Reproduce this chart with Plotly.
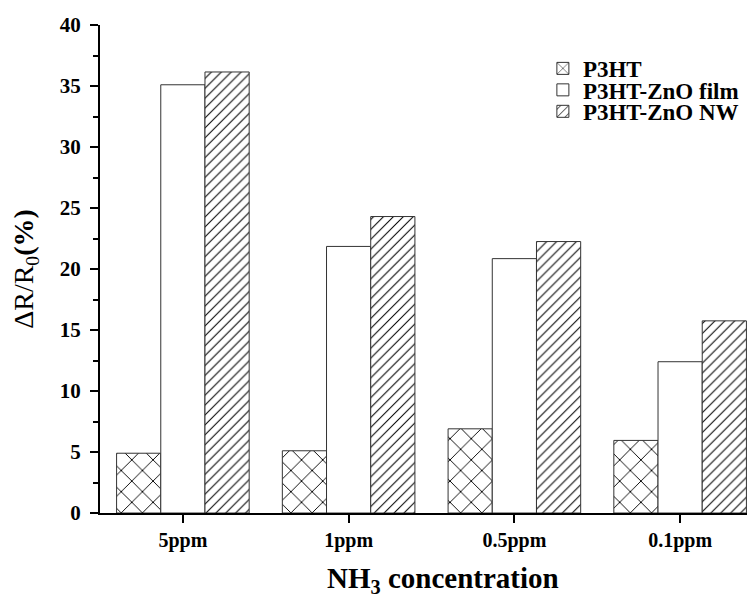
import plotly.graph_objects as go

categories = ["5ppm", "1ppm", "0.5ppm", "0.1ppm"]
p3ht = [4.9, 5.1, 6.9, 5.95]
p3ht_zno_film = [35.1, 21.85, 20.85, 12.4]
p3ht_zno_nw = [36.15, 24.3, 22.25, 15.75]
y_ticks = [0, 5, 10, 15, 20, 25, 30, 35, 40]

FONT = "Liberation Serif"
fig = go.Figure()
fig.add_trace(go.Bar(
    name="<b>P3HT</b>", x=categories, y=p3ht, legend="legend", showlegend=True,
    marker=dict(color="white", line=dict(color="#333", width=1),
                pattern=dict(shape="x", size=15, solidity=0.12, fgcolor="black", bgcolor="white", fgopacity=1)),
))
fig.add_trace(go.Bar(
    name="<b>P3HT-ZnO film</b>", x=categories, y=p3ht_zno_film, legend="legend2", showlegend=True,
    marker=dict(color="white", line=dict(color="#333", width=1)),
))
fig.add_trace(go.Bar(
    name="<b>P3HT-ZnO NW</b>", x=categories, y=p3ht_zno_nw, legend="legend3", showlegend=True,
    marker=dict(color="white", line=dict(color="#333", width=1),
                pattern=dict(shape="/", size=7, solidity=0.15, fgcolor="black", bgcolor="white", fgopacity=1)),
))

leg_common = dict(x=0.668, xanchor="left", yanchor="middle",
                  font=dict(family=FONT, size=23, color="black"),
                  bgcolor="rgba(0,0,0,0)", visible=True)

fig.update_layout(
    width=755, height=597,
    margin=dict(l=92, r=0, t=17, b=92),
    paper_bgcolor="white", plot_bgcolor="white",
    showlegend=True,
    barmode="group", bargap=0.2, bargroupgap=0,
    font=dict(family=FONT, color="black"),
    legend=dict(y=0.911, **leg_common),
    legend2=dict(y=0.867, **leg_common),
    legend3=dict(y=0.823, **leg_common),
    xaxis=dict(
        range=[-0.5, 3.5], showline=True, linecolor="black", linewidth=2,
        ticks="outside", ticklen=8, tickwidth=2, tickcolor="black",
        tickfont=dict(family=FONT, size=20, color="black", weight="bold"),
        showgrid=False, zeroline=False, automargin=False,
    ),
    yaxis=dict(
        range=[0, 40], tickvals=y_ticks, showline=True, linecolor="black", linewidth=2,
        ticks="outside", ticklen=8, tickwidth=2, tickcolor="black", ticklabelstandoff=5,
        minor=dict(dtick=2.5, ticks="outside", ticklen=5, tickwidth=1.5, tickcolor="black"),
        tickfont=dict(family=FONT, size=21, color="black", weight="bold"),
        title=dict(text="ΔR/R<sub>0</sub><b>(%)</b>", font=dict(family=FONT, size=28, color="black"), standoff=20),
        showgrid=False, zeroline=False, automargin=False,
    ),
    annotations=[dict(
        text="<b>NH<sub>3</sub> concentration</b>", xref="paper", yref="paper",
        x=0.517, y=-0.138, xanchor="center", yanchor="middle", showarrow=False,
        font=dict(family=FONT, size=29, color="black"),
    )],
)

fig.write_html("out.html")
